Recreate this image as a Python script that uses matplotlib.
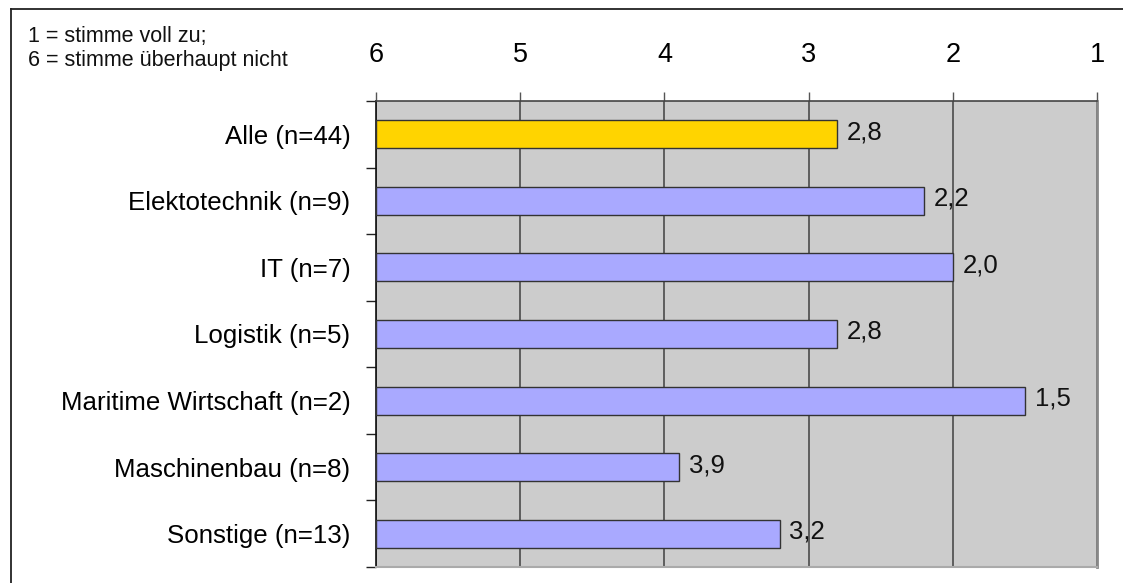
import matplotlib
matplotlib.use("Agg")
import matplotlib.pyplot as plt
from matplotlib.lines import Line2D
import numpy as np

# Survey results: mean agreement per sector (1 = full agreement, 6 = none)
categories = [
    "Alle (n=44)",
    "Elektotechnik (n=9)",
    "IT (n=7)",
    "Logistik (n=5)",
    "Maritime Wirtschaft (n=2)",
    "Maschinenbau (n=8)",
    "Sonstige (n=13)",
]
values = [2.8, 2.2, 2.0, 2.8, 1.5, 3.9, 3.2]
bar_colors = ["#FFD400", "#A9A9FF", "#A9A9FF", "#A9A9FF", "#A9A9FF", "#A9A9FF", "#A9A9FF"]
scale_ticks = [6, 5, 4, 3, 2, 1]
scale_note = "1 = stimme voll zu;\n6 = stimme überhaupt nicht"

plt.rcParams["font.family"] = ["Liberation Sans", "DejaVu Sans"]

W, H = 1123, 583
fig = plt.figure(figsize=(W / 100, H / 100), dpi=100)
fig.patch.set_facecolor("white")

ax = fig.add_axes([376 / W, 1 - 567 / H, (1097 - 376) / W, (567 - 101) / H])
ax.set_facecolor("#CCCCCC")

y = np.arange(len(categories))
base = 6.0
ax.barh(y, [v - base for v in values], left=base, height=0.42,
        color=bar_colors, edgecolor="#333333", linewidth=1.0, zorder=3)

for yi, v in zip(y, values):
    ax.annotate(f"{v:.1f}".replace(".", ","), xy=(v, yi), xytext=(7, 1.5),
                textcoords="offset points", ha="left", va="center",
                fontsize=18.5, color="#111111", zorder=4)

ax.set_xlim(6, 1)
ax.set_ylim(len(categories) - 0.5, -0.5)

# value scale on top
ax.xaxis.tick_top()
ax.set_xticks(scale_ticks)
ax.set_xticklabels([str(t) for t in scale_ticks])
ax.tick_params(axis="x", which="major", direction="out", length=6.5, width=1,
               color="#555555", labelsize=19.5, pad=17, top=True, bottom=False)

# category labels centred, ticks at category boundaries
ax.set_yticks(y)
ax.set_yticklabels(categories)
ax.tick_params(axis="y", which="major", length=0, labelsize=18.6, pad=18.5)
ax.set_yticks(np.arange(-0.5, len(categories)), minor=True)
ax.tick_params(axis="y", which="minor", direction="out", length=7, width=1,
               color="#222222")

ax.grid(axis="x", color="#555555", linewidth=1.3, zorder=1)
ax.set_axisbelow(True)

ax.spines["left"].set_color("#111111")
ax.spines["left"].set_linewidth(1.2)
ax.spines["top"].set_color("#444444")
ax.spines["top"].set_linewidth(1.2)
ax.spines["right"].set_color("#888888")
ax.spines["right"].set_linewidth(2)
ax.spines["bottom"].set_color("#AAAAAA")
ax.spines["bottom"].set_linewidth(1.5)

fig.text(28 / W, 1 - 26 / H, scale_note, ha="left", va="top",
         fontsize=15.5, linespacing=1.2, color="#111111")

# outer frame (left and top edges)
fig.add_artist(Line2D([10.5 / W, 10.5 / W], [0, 1 - 8.5 / H],
                      transform=fig.transFigure, color="#222222", linewidth=1.3))
fig.add_artist(Line2D([10.5 / W, 1], [1 - 8.5 / H, 1 - 8.5 / H],
                      transform=fig.transFigure, color="#222222", linewidth=1.3))

fig.savefig("out.png", dpi=100)
